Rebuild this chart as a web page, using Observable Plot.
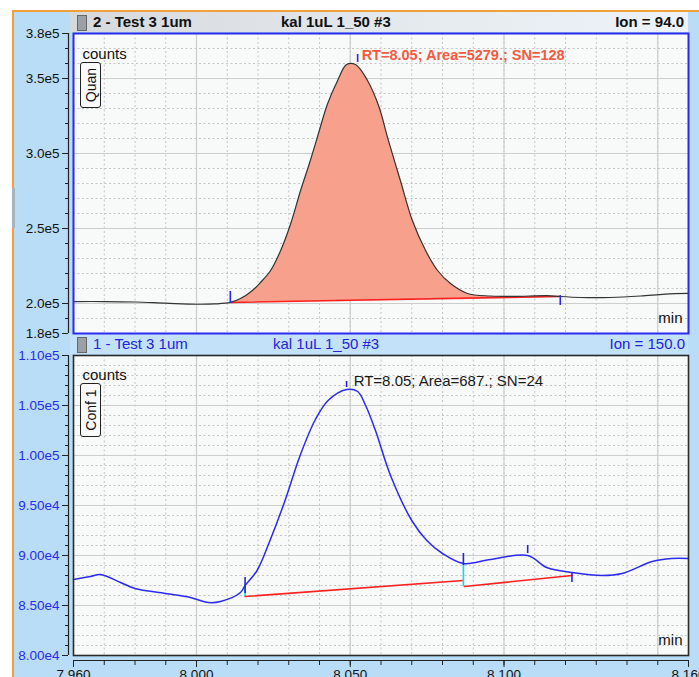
<!DOCTYPE html>
<html>
<head>
<meta charset="utf-8">
<script src="https://cdn.jsdelivr.net/npm/d3@7"></script>
<script src="https://cdn.jsdelivr.net/npm/@observablehq/plot@0.6"></script>
<style>
  body { margin: 0; background: #fff; }
  #root { position: relative; width: 699px; height: 677px; overflow: hidden; background: #fff;
          font-family: "Liberation Sans", Arial, sans-serif; }
  .abs { position: absolute; }
  .hdr { position: absolute; font-size: 15px; line-height: 20px; white-space: nowrap; }
  .box { position: absolute; border: 1.5px solid #222; border-radius: 3px; background: #fafafa; box-sizing: border-box; }
  .box span { position: absolute; left: 50%; top: 50%; transform: translate(-50%, -50%) rotate(-90deg);
              font-size: 14px; white-space: nowrap; color: #111; }
</style>
</head>
<body>
<div id="root">
  <div class="abs" style="left:12px;top:10px;right:0;bottom:0;background:#b9ddf6;border-left:2px solid #f0a03c;border-top:2px solid #f0a03c;"></div>
  <div class="abs" style="left:12px;top:188px;width:3px;height:40px;background:#a8b4bc;"></div>
  <!-- top header -->
  <div class="abs" style="left:70px;top:12px;width:618px;height:20px;background:linear-gradient(to right,#d6d9dc,#e6ebf0 60%,#eef3f9);"></div>
  <div class="abs" style="left:77px;top:15px;width:8px;height:14px;background:#9aa0a6;border:1px solid #666;"></div>
  <div class="hdr" style="left:93px;top:12px;font-weight:bold;color:#111;">2 - Test 3 1um</div>
  <div class="hdr" style="left:281px;top:12px;font-weight:bold;color:#111;">kal 1uL 1_50 #3</div>
  <div class="hdr" style="right:15px;top:12px;font-weight:bold;color:#111;">Ion = 94.0</div>
  <!-- bottom header -->
  <div class="abs" style="left:70px;top:334px;width:618px;height:20px;background:#c3e2f9;"></div>
  <div class="abs" style="left:77px;top:337px;width:8px;height:14px;background:#9aa0a6;border:1px solid #666;"></div>
  <div class="hdr" style="left:93px;top:334px;color:#2323d8;">1 - Test 3 1um</div>
  <div class="hdr" style="left:273px;top:334px;color:#2323d8;">kal 1uL 1_50 #3</div>
  <div class="hdr" style="right:14px;top:334px;color:#2323d8;">Ion = 150.0</div>
  <div id="topChart" class="abs" style="left:0;top:0;"></div>
  <div id="botChart" class="abs" style="left:0;top:334px;"></div>
  <div class="box" style="left:80px;top:62px;width:21px;height:46px;"><span>Quan</span></div>
  <div class="box" style="left:80px;top:383px;width:21px;height:54px;"><span>Conf 1</span></div>
</div>
<script>
// ---------- data ----------
const quanTime = [7.960, 7.970, 7.980, 7.990, 8.000, 8.006, 8.011, 8.0143, 8.0182, 8.0208, 8.0241, 8.0273,
  8.0306, 8.0338, 8.0365, 8.0390, 8.0426, 8.0459, 8.0488, 8.0517, 8.0556, 8.0592, 8.0624, 8.0663, 8.0702,
  8.0745, 8.0784, 8.0826, 8.0881, 8.0956, 8.1031, 8.1141, 8.1180, 8.1249, 8.1346, 8.1444, 8.1525, 8.1600];
const quanCounts = [201300, 201300, 201000, 200200, 199500, 199700, 200700, 203300, 208700, 214000, 222000, 235000,
  253000, 275000, 292000, 308700, 333000, 348700, 359300, 359300, 348700, 332000, 308700, 282000, 255300,
  235300, 222000, 213300, 206700, 205000, 204700, 205300, 204700, 204000, 204000, 205000, 206300, 206700];
const quanPeak = {start: 8.011, end: 8.118};
const quanBaseline = [{t: 8.011, v: 200700}, {t: 8.118, v: 204700}];
const quanMarks = [
  {t: 8.011, lo: 200000, hi: 208000},
  {t: 8.1183, lo: 198700, hi: 205300},
  {t: 8.0524, lo: 360700, hi: 366000}
];
const quanLabel = [{t: 8.0537, v: 365300, text: "RT=8.05; Area=5279.; SN=128"}];

const confTime = [7.960, 7.9655, 7.9688, 7.9753, 7.9800, 7.9900, 7.9980, 8.0039, 8.0078, 8.0143, 8.0158, 8.0197,
  8.0239, 8.0288, 8.0337, 8.0385, 8.0428, 8.0488, 8.0524, 8.0550, 8.0582, 8.0631, 8.0700, 8.0749, 8.0800,
  8.0868, 8.0956, 8.1077, 8.1139, 8.1221, 8.1319, 8.1384, 8.1482, 8.1545, 8.1600];
const confCounts = [87600, 87900, 88100, 87300, 86700, 86200, 85800, 85300, 85400, 86300, 87000, 88500,
  91500, 95500, 100000, 103500, 105500, 106600, 106400, 105000, 102500, 98000, 93500, 91500, 90200,
  89200, 89600, 90000, 88800, 88300, 88000, 88200, 89400, 89700, 89700];
const confBaseline1 = [{t: 8.0158, v: 85900}, {t: 8.0868, v: 87500}];
const confBaseline2 = [{t: 8.0871, v: 86900}, {t: 8.1221, v: 88000}];
const confDrops = [{t: 8.0158, lo: 85900, hi: 87000}, {t: 8.0868, lo: 86900, hi: 89200}];
const confMarks = [
  {t: 8.0158, lo: 86200, hi: 87800},
  {t: 8.0868, lo: 89000, hi: 90200},
  {t: 8.1077, lo: 90200, hi: 91000},
  {t: 8.1221, lo: 87300, hi: 88200},
  {t: 8.0488, lo: 106800, hi: 107400}
];
const confLabel = [{t: 8.0511, v: 107400, text: "RT=8.05; Area=687.; SN=24"}];

const xDomain = [7.96, 8.16];
const xMinor = [7.96, 7.97, 7.98, 7.99, 8.00, 8.01, 8.02, 8.03, 8.04, 8.05, 8.06, 8.07, 8.08, 8.09, 8.10,
  8.11, 8.12, 8.13, 8.14, 8.15, 8.16];
const xMajorGrid = [8.00, 8.05, 8.10, 8.15];
const xLabelTicks = [7.96, 8.00, 8.05, 8.10, 8.16];
const xLabels = ["7.960", "8.000", "8.050", "8.100", "8.160"];

const topYDomain = [180000, 380000];
const topYLabelTicks = [180000, 200000, 250000, 300000, 350000, 380000];
const topYLabels = ["1.8e5", "2.0e5", "2.5e5", "3.0e5", "3.5e5", "3.8e5"];
const topYGrid = [200000, 250000, 300000, 350000];
const topYMinor = d3.range(180000, 380001, 10000);

const botYDomain = [80000, 110000];
const botYLabelTicks = [80000, 85000, 90000, 95000, 100000, 105000, 110000];
const botYLabels = ["8.00e4", "8.50e4", "9.00e4", "9.50e4", "1.00e5", "1.05e5", "1.10e5"];
const botYGrid = [85000, 90000, 95000, 100000, 105000];
const botYMinor = d3.range(80000, 110001, 1000);

// ---------- build ----------
const quan = quanTime.map((t, i) => ({t, v: quanCounts[i]}));
const conf = confTime.map((t, i) => ({t, v: confCounts[i]}));
const quanFill = quan.filter(d => d.t >= quanPeak.start && d.t <= quanPeak.end)
  .concat([quanBaseline[1], quanBaseline[0]]);

const font = "'Liberation Sans', Arial, sans-serif";
const style = {background: "transparent", fontFamily: font, fontSize: "13.5px", overflow: "visible", color: "#111"};
const dotted = {stroke: "#c4c4c4", strokeOpacity: 1, strokeDasharray: "2,2.5", strokeWidth: 1};
const solid = {stroke: "#cdcdcd", strokeOpacity: 1, strokeWidth: 1.2};
const fmt = (ticks, labels) => d => { const i = ticks.findIndex(v => Math.abs(v - d) < 1e-9); return i >= 0 ? labels[i] : ""; };
const smooth = "catmull-rom";

const topPlot = Plot.plot({
  width: 699, height: 334, marginTop: 33, marginBottom: 1, marginLeft: 73, marginRight: 11,
  x: {domain: xDomain, axis: null},
  y: {domain: topYDomain, axis: null},
  style,
  marks: [
    Plot.frame({fill: "#f8f9f9", stroke: null}),
    Plot.gridX(xMinor, dotted),
    Plot.gridY(topYMinor, dotted),
    Plot.gridX(xMajorGrid, solid),
    Plot.gridY(topYGrid, solid),
    Plot.line(quanFill, {x: "t", y: "v", fill: "#f7a08c", stroke: "none", curve: smooth}),
    Plot.line(quanBaseline, {x: "t", y: "v", stroke: "#ff2020", strokeWidth: 1.6}),
    Plot.line(quan, {x: "t", y: "v", stroke: "#333", strokeWidth: 1.2, curve: smooth}),
    Plot.ruleX(quanMarks, {x: "t", y1: "lo", y2: "hi", stroke: "#2626ff", strokeWidth: 1.6}),
    Plot.text(quanLabel, {x: "t", y: "v", text: "text", textAnchor: "start", fill: "#f35b41",
      fontWeight: "bold", fontSize: 14.5}),
    Plot.text(["counts"], {frameAnchor: "top-left", dx: 9, dy: 15, fontSize: 15, fill: "#111", textAnchor: "start"}),
    Plot.text(["min"], {frameAnchor: "bottom-right", dx: -6, dy: -11, fontSize: 15, fill: "#111", textAnchor: "end"}),
    Plot.ruleX([xDomain[0]], {dx: -5, stroke: "#222", strokeWidth: 1.2}),
    Plot.axisY(topYMinor, {anchor: "left", tickSize: 3, dx: -5, tickFormat: () => "", stroke: "#222", label: null}),
    Plot.axisY(topYLabelTicks, {anchor: "left", tickSize: 6, dx: -5, tickPadding: 3, label: null,
      tickFormat: fmt(topYLabelTicks, topYLabels), stroke: "#222", fill: "#111", fontSize: 13.5}),
    Plot.frame({stroke: "#2b2bee", strokeWidth: 2})
  ]
});
document.getElementById("topChart").appendChild(topPlot);

const botPlot = Plot.plot({
  width: 699, height: 343, marginTop: 21, marginBottom: 22, marginLeft: 73, marginRight: 11,
  x: {domain: xDomain, axis: null},
  y: {domain: botYDomain, axis: null},
  style,
  marks: [
    Plot.frame({fill: "#f8f9f9", stroke: null}),
    Plot.gridX(xMinor, dotted),
    Plot.gridY(botYMinor, dotted),
    Plot.gridX(xMajorGrid, solid),
    Plot.gridY(botYGrid, solid),
    Plot.line(confBaseline1, {x: "t", y: "v", stroke: "#ff2020", strokeWidth: 1.6}),
    Plot.line(confBaseline2, {x: "t", y: "v", stroke: "#ff2020", strokeWidth: 1.6}),
    Plot.ruleX(confDrops, {x: "t", y1: "lo", y2: "hi", stroke: "#00e0f0", strokeWidth: 1.6}),
    Plot.line(conf, {x: "t", y: "v", stroke: "#2a2af0", strokeWidth: 1.5, curve: smooth}),
    Plot.ruleX(confMarks, {x: "t", y1: "lo", y2: "hi", stroke: "#2626d8", strokeWidth: 1.6}),
    Plot.text(confLabel, {x: "t", y: "v", text: "text", textAnchor: "start", fill: "#1a1a1a", fontSize: 15}),
    Plot.text(["counts"], {frameAnchor: "top-left", dx: 9, dy: 14, fontSize: 15, fill: "#111", textAnchor: "start"}),
    Plot.text(["min"], {frameAnchor: "bottom-right", dx: -6, dy: -11, fontSize: 15, fill: "#111", textAnchor: "end"}),
    Plot.ruleX([xDomain[0]], {dx: -5, stroke: "#222", strokeWidth: 1.2}),
    Plot.axisY(botYMinor, {anchor: "left", tickSize: 3, dx: -5, tickFormat: () => "", stroke: "#222", label: null}),
    Plot.axisY(botYLabelTicks, {anchor: "left", tickSize: 6, dx: -5, tickPadding: 3, label: null,
      tickFormat: fmt(botYLabelTicks, botYLabels), stroke: "#222", fill: "#2a2aee", fontSize: 13.5}),
    Plot.ruleY([botYDomain[0]], {dy: 5, stroke: "#222", strokeWidth: 1.2}),
    Plot.axisX(xMinor, {anchor: "bottom", tickSize: 5, dy: 5, tickFormat: () => "", stroke: "#222", label: null}),
    Plot.axisX(xLabelTicks, {anchor: "bottom", tickSize: 7, dy: 5, tickPadding: 2, label: null,
      tickFormat: fmt(xLabelTicks, xLabels), stroke: "#222", fill: "#111", fontSize: 13.5}),
    Plot.frame({stroke: "#2a2a2a", strokeWidth: 1.6})
  ]
});
document.getElementById("botChart").appendChild(botPlot);
</script>
</body>
</html>
